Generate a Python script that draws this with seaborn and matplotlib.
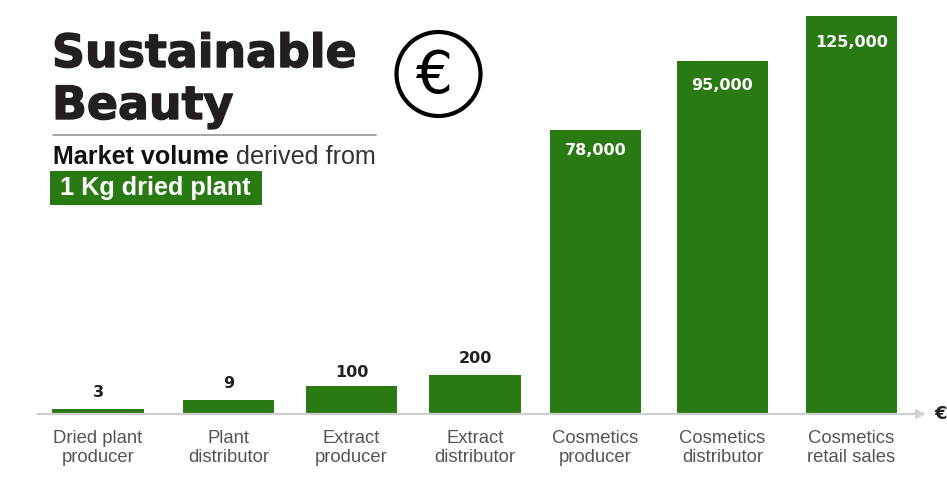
import numpy as np
import seaborn as sns
import matplotlib.pyplot as plt
import matplotlib.patheffects as pe
from matplotlib.patches import Circle, Rectangle

# ============ Data ============
categories = ["Dried plant\nproducer", "Plant\ndistributor", "Extract\nproducer", "Extract\ndistributor",
              "Cosmetics\nproducer", "Cosmetics\ndistributor", "Cosmetics\nretail sales"]
market_volume = [3, 9, 100, 200, 78000, 95000, 125000]

# the bars of the original are not to scale, so the y axis is a hand made one
scale_values = [0, 3, 9, 100, 200, 78000, 95000, 125000]
scale_heights = [0, 5, 14, 28, 39, 284, 353, 398]

# bar centres in the original are not quite evenly spaced (pixels)
bar_centres = [98, 228.5, 351.5, 475, 595.5, 722.5, 851.5]
# value label offset from the bar top (points), the original is not regular either
label_offsets = [12, 12, 10, 12, -15, -17.5, -19]

GREEN = "#2a7a14"
DARK = "#231f20"
GREY = "#cfcfcf"

sns.set_theme(style="white")
plt.rcParams['font.family'] = 'Liberation Sans'

fig = plt.figure(figsize=(9.47, 4.91), dpi=100)

# ============ Bars ============
# axes run from the baseline (y=414px) up to the tallest bar (y=16px)
ax = fig.add_axes([0, (491 - 414) / 491, 1, 398 / 491])
sns.barplot(x=bar_centres, y=market_volume, native_scale=True, color=GREEN, saturation=1,
            width=0.76, linewidth=0, ax=ax)


def forward(v):
    return np.interp(v, scale_values, scale_heights)


def inverse(h):
    return np.interp(h, scale_heights, scale_values)


ax.set_yscale('function', functions=(forward, inverse))
ax.set_ylim(0, 125000)
ax.set_xlim(0, 947)
ax.patch.set_alpha(0)
ax.set_yticks([])
ax.set_xticks(bar_centres)
ax.set_xticklabels(categories, fontsize=13.3, color="#555555", linespacing=1.17)
ax.tick_params(axis='x', length=0, pad=11.5)
ax.set_xlabel("")
ax.set_ylabel("")
sns.despine(ax=ax, left=True)
ax.spines['bottom'].set_color(GREY)
ax.spines['bottom'].set_linewidth(1.6)
ax.spines['bottom'].set_bounds(38, 915)

# ---- value labels: above the small bars, inside the tall ones ----
for x, v, off in zip(bar_centres, market_volume, label_offsets):
    ax.annotate(f"{v:,}", xy=(x, v), xytext=(0, off), textcoords='offset points',
                ha='center', va='center', fontsize=11.5, fontweight='bold',
                family='DejaVu Sans', color='white' if v > 1000 else DARK, clip_on=False)

# ---- arrow at the end of the axis ----
ax.annotate("", xy=(926, 0), xytext=(909, 0), annotation_clip=False,
            arrowprops=dict(arrowstyle='-|>', color="#d4d4d4", lw=1, mutation_scale=16, shrinkA=0, shrinkB=0))
ax.annotate("€", xy=(934, 0), xytext=(0, 0), textcoords='offset points', va='center', ha='left',
            fontsize=13, fontweight='bold', family='DejaVu Sans', color=DARK, annotation_clip=False)

# ============ Title block, in pixel coordinates ============
top = fig.add_axes([0, 0, 1, 1])
top.set_xlim(0, 947)
top.set_ylim(491, 0)
top.axis('off')

heavy = [pe.withStroke(linewidth=1.0, foreground=DARK)]
top.text(52, 67, "Sustainable", fontsize=33, fontweight='bold', family='DejaVu Sans', color=DARK,
         va='baseline', path_effects=heavy)
top.text(52, 119, "Beauty", fontsize=33, fontweight='bold', family='DejaVu Sans', color=DARK,
         va='baseline', path_effects=heavy)
top.plot([53, 376], [135, 135], color="#a0a0a0", lw=1.3)

t1 = top.text(53, 164, "Market volume", fontsize=18.1, fontweight='bold', color="#111111", va='baseline')
top.annotate(" derived from", xy=(1, 0), xycoords=t1, fontsize=18.1, color="#333333", va='bottom')

top.add_patch(Rectangle((50, 171), 212, 34, color=GREEN, lw=0))
top.text(60, 195, "1 Kg dried plant", fontsize=18.2, fontweight='bold', color='white', va='baseline')

top.add_patch(Circle((438.5, 74), 42, fill=False, ec='black', lw=3))
top.text(435, 76, "€", fontsize=42, color='black', ha='center', va='center', family='DejaVu Sans')

plt.savefig("out.png", dpi=100)
